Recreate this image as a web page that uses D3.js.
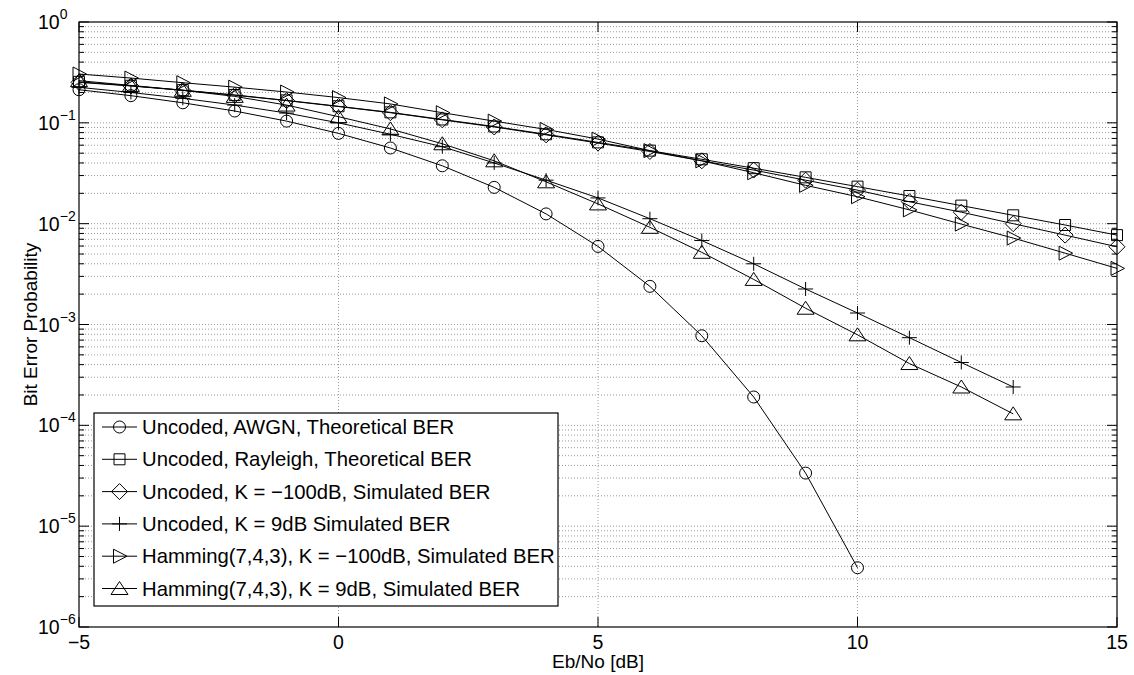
<!DOCTYPE html>
<html>
<head>
<meta charset="utf-8">
<script src="https://cdn.jsdelivr.net/npm/d3@7"></script>
<style>
  body { margin: 0; background: #fff; }
  svg { display: block; }
  text { font-family: "Liberation Sans", Arial, Helvetica, sans-serif; fill: #000; }
</style>
</head>
<body>
<svg width="1134" height="675"></svg>
<script>
// Eb/No points (dB)
const ebno = [-5, -4, -3, -2, -1, 0, 1, 2, 3, 4, 5, 6, 7, 8, 9, 10, 11, 12, 13, 14, 15];

// series values (one value per ebno point, shorter series stop early)
const awgnTheory = [0.213, 0.186, 0.158, 0.131, 0.104, 0.0786, 0.0563, 0.0375, 0.0229, 0.0125,
  0.00595, 0.00239, 0.000773, 0.000191, 3.36e-5, 3.87e-6];
const rayleighTheory = [0.255, 0.233, 0.211, 0.189, 0.167, 0.146, 0.127, 0.108, 0.092, 0.077,
  0.064, 0.053, 0.0435, 0.0355, 0.0288, 0.0233, 0.0188, 0.0151, 0.0121, 0.0097, 0.0077];
const uncodedK100 = [0.252, 0.232, 0.210, 0.188, 0.166, 0.145, 0.126, 0.107, 0.091, 0.076,
  0.063, 0.052, 0.042, 0.034, 0.027, 0.0215, 0.0165, 0.013, 0.010, 0.0077, 0.0059];
const uncodedK9 = [0.225, 0.200, 0.175, 0.150, 0.125, 0.100, 0.077, 0.058, 0.040, 0.027,
  0.018, 0.0112, 0.0068, 0.0040, 0.00225, 0.0013, 0.00074, 0.00042, 0.00024];
const hammingK100 = [0.305, 0.278, 0.250, 0.226, 0.202, 0.178, 0.154, 0.126, 0.104, 0.086,
  0.069, 0.053, 0.042, 0.032, 0.024, 0.0185, 0.0137, 0.0099, 0.0072, 0.0051, 0.0036];
const hammingK9 = [0.262, 0.235, 0.210, 0.183, 0.150, 0.115, 0.087, 0.062, 0.042, 0.026,
  0.0157, 0.0092, 0.0052, 0.0028, 0.00145, 0.00079, 0.00041, 0.00024, 0.00013];

const seriesNames = [
  "Uncoded, AWGN, Theoretical BER",
  "Uncoded, Rayleigh, Theoretical BER",
  "Uncoded, K = \u2212100dB, Simulated BER",
  "Uncoded, K = 9dB Simulated BER",
  "Hamming(7,4,3), K = \u2212100dB, Simulated BER",
  "Hamming(7,4,3), K = 9dB, Simulated BER"
];
const seriesMarkers = ["circle", "square", "diamond", "plus", "triright", "triup"];
const seriesValues = [awgnTheory, rayleighTheory, uncodedK100, uncodedK9, hammingK100, hammingK9];

const xTicks = [-5, 0, 5, 10, 15];
const yExponents = [0, -1, -2, -3, -4, -5, -6];

const margin = {top: 22, right: 17, bottom: 48, left: 79},
    width = 1134 - margin.left - margin.right,
    height = 675 - margin.top - margin.bottom;

const svg = d3.select("svg");
const g = svg.append("g").attr("transform", `translate(${margin.left},${margin.top})`);

const x = d3.scaleLinear().domain([-5, 15]).range([0, width]);
const y = d3.scaleLog().domain([1e-6, 1]).range([height, 0]);

// grid: minor + major on y, major only on x
const yGrid = [];
for (let e = -6; e < 0; e++) for (let m = 1; m <= 9; m++) yGrid.push(m * Math.pow(10, e));
g.append("g").selectAll("line").data(yGrid.filter(v => v > 1e-6)).join("line")
  .attr("x1", 0).attr("x2", width)
  .attr("y1", d => y(d)).attr("y2", d => y(d))
  .attr("stroke", "#9a9a9a").attr("stroke-width", 1)
  .attr("stroke-dasharray", "1,2");
g.append("g").selectAll("line").data(xTicks.slice(1, -1)).join("line")
  .attr("x1", d => x(d)).attr("x2", d => x(d))
  .attr("y1", 0).attr("y2", height)
  .attr("stroke", "#9a9a9a").attr("stroke-width", 1)
  .attr("stroke-dasharray", "1,2");

// ticks inside the box
const tickG = g.append("g").attr("stroke", "#000").attr("stroke-width", 1);
xTicks.forEach(t => {
  tickG.append("line").attr("x1", x(t)).attr("x2", x(t)).attr("y1", height).attr("y2", height - 10);
  tickG.append("line").attr("x1", x(t)).attr("x2", x(t)).attr("y1", 0).attr("y2", 10);
});
yGrid.concat([1]).forEach(v => {
  const major = Math.abs(Math.log10(v) - Math.round(Math.log10(v))) < 1e-9;
  const len = major ? 10 : 5;
  tickG.append("line").attr("x1", 0).attr("x2", len).attr("y1", y(v)).attr("y2", y(v));
  tickG.append("line").attr("x1", width).attr("x2", width - len).attr("y1", y(v)).attr("y2", y(v));
});

// tick labels
g.append("g").selectAll("text").data(xTicks).join("text")
  .attr("x", d => x(d)).attr("y", height + 22)
  .attr("text-anchor", "middle").attr("font-size", 19.5)
  .text(d => d < 0 ? "\u2212" + Math.abs(d) : d);
const yl = g.append("g").selectAll("text").data(yExponents).join("text")
  .attr("x", 38 - margin.left).attr("y", d => y(Math.pow(10, d)) + 7)
  .attr("font-size", 19.5);
yl.append("tspan").text("10");
yl.append("tspan").attr("dy", -10).attr("font-size", 14)
  .text(d => d < 0 ? "\u2212" + Math.abs(d) : d);

// axis labels
svg.append("text").attr("x", margin.left + width / 2).attr("y", 668)
  .attr("text-anchor", "middle").attr("font-size", 19).text("Eb/No [dB]");
svg.append("text").attr("transform", `translate(37,${margin.top + height / 2}) rotate(-90)`)
  .attr("text-anchor", "middle").attr("font-size", 19).text("Bit Error Probability");

// marker shapes
function markerPath(type) {
  switch (type) {
    case "circle": return "M6,0A6,6 0 1,1 -6,0A6,6 0 1,1 6,0Z";
    case "square": return "M-5.5,-5.5H5.5V5.5H-5.5Z";
    case "diamond": return "M0,-8L8,0L0,8L-8,0Z";
    case "plus": return "M-7.5,0H7.5M0,-7V7";
    case "triright": return "M-6,-7L7.5,0L-6,7Z";
    case "triup": return "M0,-7L8.5,6L-8.5,6Z";
  }
}

const line = d3.line().x(d => x(d[0])).y(d => y(d[1]));

seriesValues.forEach((vals, i) => {
  const pts = vals.map((v, j) => [ebno[j], v]);
  const sg = g.append("g");
  sg.append("path").datum(pts).attr("d", line)
    .attr("fill", "none").attr("stroke", "#000").attr("stroke-width", 1);
  sg.selectAll("path.m").data(pts).join("path").attr("class", "m")
    .attr("transform", d => `translate(${x(d[0])},${y(d[1])})`)
    .attr("d", markerPath(seriesMarkers[i]))
    .attr("fill", "none").attr("stroke", "#000").attr("stroke-width", 1);
});

// axes box
g.append("rect").attr("width", width).attr("height", height)
  .attr("fill", "none").attr("stroke", "#000").attr("stroke-width", 1.2);

// legend
const lg = svg.append("g").attr("transform", "translate(94,413)");
lg.append("rect").attr("width", 464).attr("height", 193)
  .attr("fill", "#fff").attr("stroke", "#000").attr("stroke-width", 1.2);
seriesNames.forEach((name, i) => {
  const cy = 14 + i * 32.3;
  lg.append("line").attr("x1", 8).attr("x2", 43).attr("y1", cy).attr("y2", cy)
    .attr("stroke", "#000").attr("stroke-width", 1);
  lg.append("path").attr("transform", `translate(25.5,${cy})`)
    .attr("d", markerPath(seriesMarkers[i]))
    .attr("fill", "none").attr("stroke", "#000").attr("stroke-width", 1);
  lg.append("text").attr("x", 48).attr("y", cy + 7)
    .attr("font-size", 20.3).text(name);
});
</script>
</body>
</html>
